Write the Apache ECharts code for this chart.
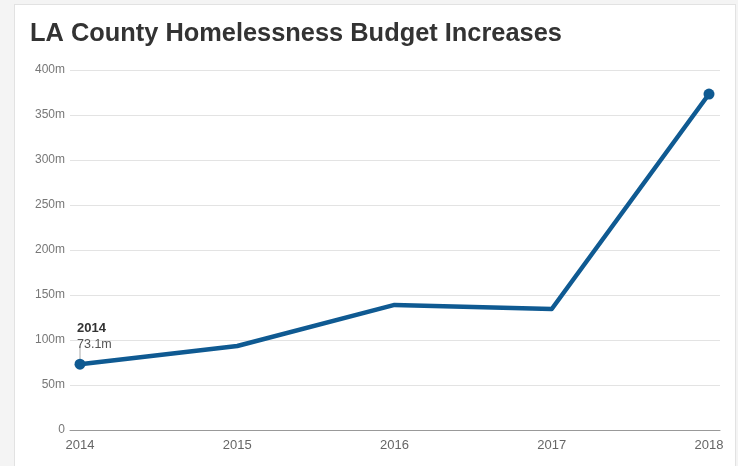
<!DOCTYPE html>
<html>
<head>
<meta charset="utf-8">
<script src="https://cdn.jsdelivr.net/npm/echarts@6/dist/echarts.min.js"></script>
<style>
  html, body { margin: 0; padding: 0; background: #f4f4f4; }
  #frame {
    position: absolute; left: 14px; top: 4px; width: 722px; height: 470px;
    background: #ffffff; border: 1px solid #e2e2e2; box-sizing: border-box;
  }
  #chart { position: absolute; left: 0; top: 0; width: 738px; height: 466px; }
</style>
</head>
<body>
<div id="frame"></div>
<div id="chart"></div>
<script>
// Budget by year, in millions of dollars
const years = ['2014', '2015', '2016', '2017', '2018'];
const budget = [73.1, 93.3, 139.0, 134.4, 373.3];
const yTicks = [0, 50, 100, 150, 200, 250, 300, 350, 400];
const titleText = 'LA County Homelessness Budget Increases';

const lineColor = '#0f5a92';
const fontFamily = 'Liberation Sans, Arial, sans-serif';
const fmtMoney = v => (v === 0 ? '0' : v + 'm');

const chart = echarts.init(document.getElementById('chart'), null, { renderer: 'canvas' });

const lastIdx = budget.length - 1;

chart.setOption({
  animation: false,
  title: {
    text: titleText,
    left: 25, top: 16,
    textStyle: { fontFamily, fontSize: 25.4, fontWeight: 'bold', color: '#333333' }
  },
  grid: [
    // grid for the value scale, gridlines and baseline (slightly wider than the line)
    { left: 70, right: 18, top: 70, bottom: 36, containLabel: false },
    // grid for the line series itself
    { left: 80, right: 29, top: 70, bottom: 36, containLabel: false }
  ],
  xAxis: [
    {
      gridIndex: 0, type: 'value', min: 0, max: 1,
      axisLine: { show: true, lineStyle: { color: '#999999', width: 1 } },
      axisTick: { show: false }, axisLabel: { show: false }, splitLine: { show: false }
    },
    {
      gridIndex: 1, type: 'category', data: years, boundaryGap: false,
      axisLine: { show: false }, axisTick: { show: false }, splitLine: { show: false },
      axisLabel: { color: '#666666', fontFamily, fontSize: 13, margin: 9, interval: 0 }
    }
  ],
  yAxis: [
    {
      gridIndex: 0, type: 'value', min: yTicks[0], max: yTicks[yTicks.length - 1], interval: 50,
      axisLine: { show: false }, axisTick: { show: false },
      axisLabel: { color: '#777777', fontFamily, fontSize: 12, margin: 5, formatter: fmtMoney },
      splitLine: { show: true, lineStyle: { color: '#e3e3e3', width: 1 } }
    },
    {
      gridIndex: 1, type: 'value', min: yTicks[0], max: yTicks[yTicks.length - 1], interval: 50,
      show: false, splitLine: { show: false }
    }
  ],
  series: [
    {
      type: 'line',
      xAxisIndex: 1, yAxisIndex: 1,
      data: budget.map((v, i) => {
        const item = { value: v };
        if (i === 0) {
          item.label = {
            show: true, position: 'top', align: 'left', distance: 6, offset: [-3, 0],
            formatter: p => '{y|' + p.name + '}\n{v|' + p.value + 'm}',
            rich: {
              y: { fontFamily, fontSize: 13, fontWeight: 'bold', color: '#333333', lineHeight: 16 },
              v: { fontFamily, fontSize: 12.5, color: '#555555', lineHeight: 16 }
            }
          };
        }
        return item;
      }),
      symbol: (val, params) => (params.dataIndex === 0 || params.dataIndex === lastIdx ? 'circle' : 'none'),
      symbolSize: 11,
      showAllSymbol: true,
      lineStyle: { color: lineColor, width: 4.5, join: 'round' },
      itemStyle: { color: lineColor, borderWidth: 0 },
      z: 3
    }
  ]
});

// Thin leader line from the first point up to its label
const p0 = chart.convertToPixel({ xAxisIndex: 1, yAxisIndex: 1 }, [years[0], budget[0]]);
chart.setOption({
  graphic: [{
    type: 'line', z: 1, silent: true,
    shape: { x1: p0[0], y1: p0[1] - 5, x2: p0[0], y2: p0[1] - 18 },
    style: { stroke: '#aaaaaa', lineWidth: 1 }
  }]
});
</script>
</body>
</html>
